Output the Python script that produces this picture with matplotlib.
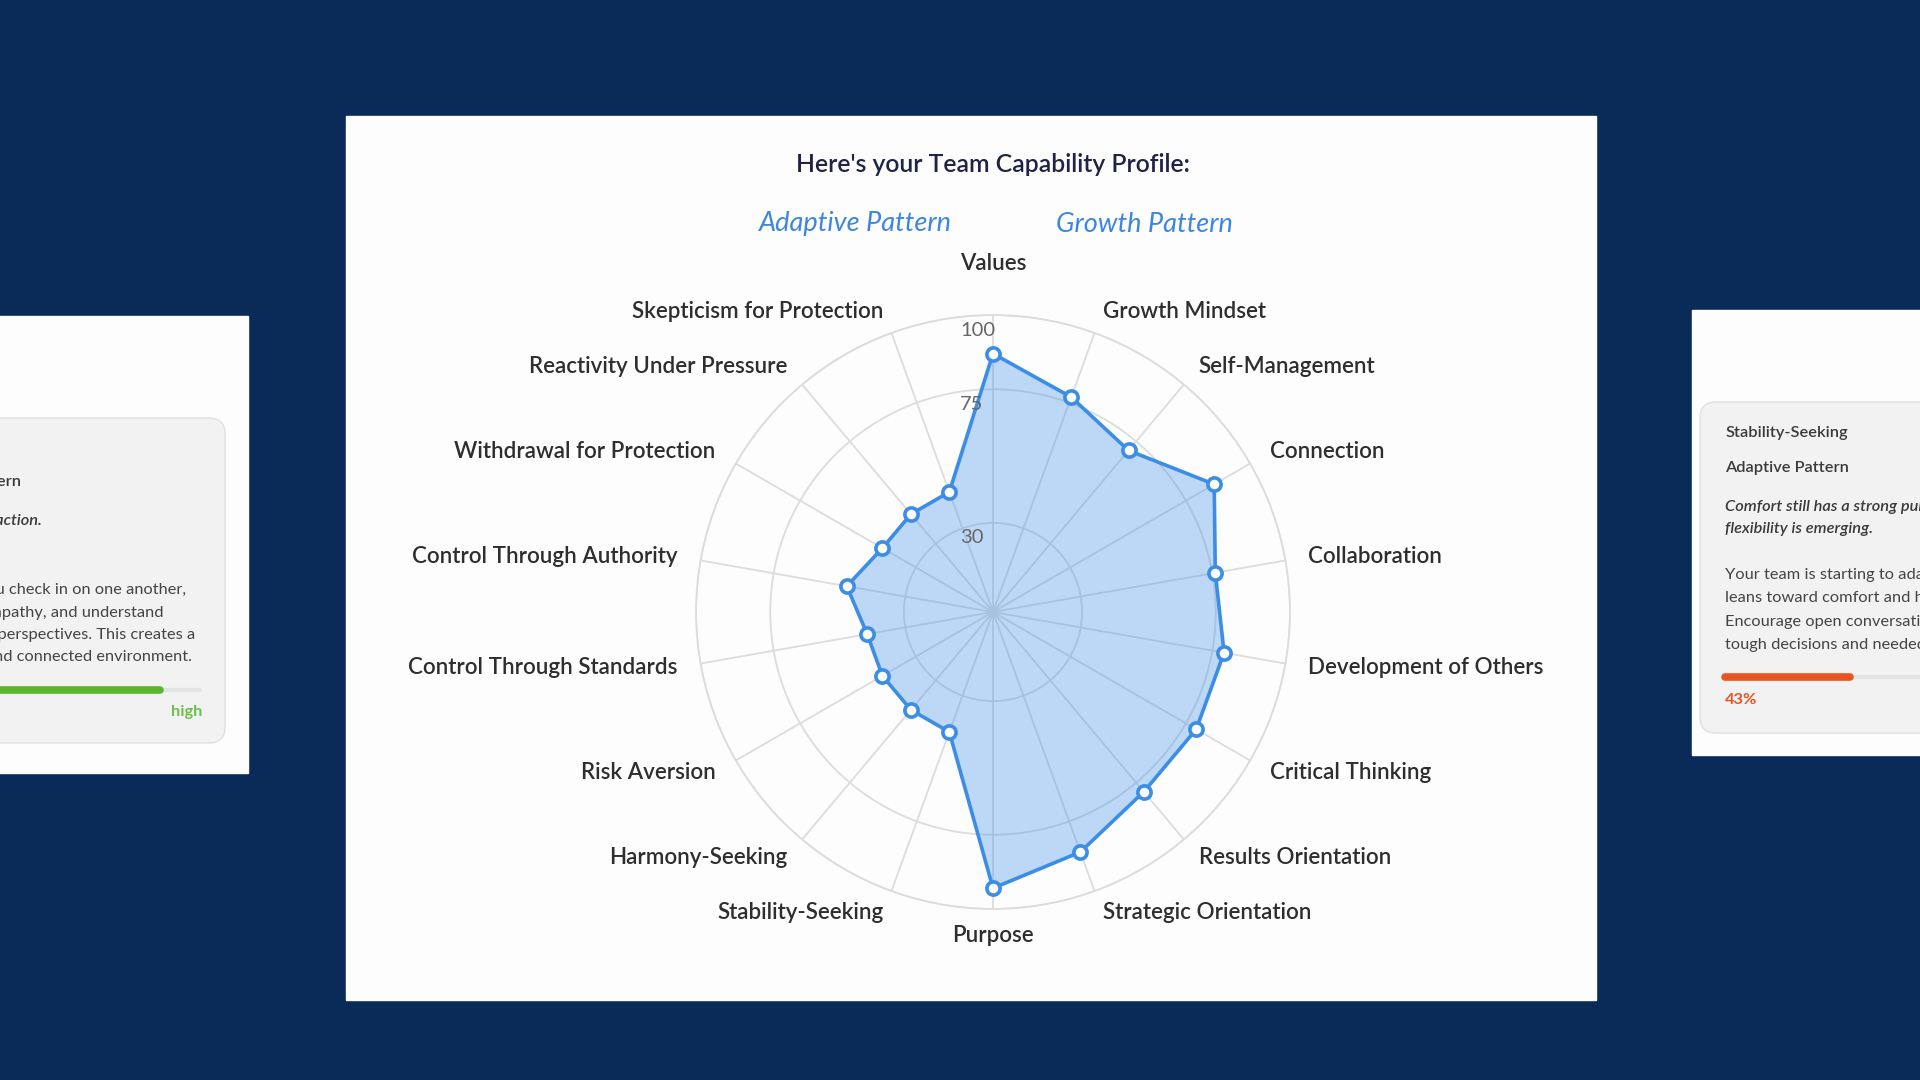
import numpy as np
import matplotlib
matplotlib.use("Agg")
import matplotlib.pyplot as plt
from matplotlib.patches import Rectangle, FancyBboxPatch
from matplotlib.transforms import offset_copy

plt.rcParams['font.family'] = ['Lato', 'DejaVu Sans']

# --- data ---
categories = ['Values', 'Growth Mindset', 'Self-Management', 'Connection', 'Collaboration',
              'Development of Others', 'Critical Thinking', 'Results Orientation',
              'Strategic Orientation', 'Purpose', 'Stability-Seeking', 'Harmony-Seeking',
              'Risk Aversion', 'Control Through Standards', 'Control Through Authority',
              'Withdrawal for Protection', 'Reactivity Under Pressure', 'Skepticism for Protection']
scores = [87, 77, 71, 86, 76, 79, 79, 79, 86, 93, 43, 43, 43, 43, 50, 43, 43, 43]
ring_ticks = [30, 75, 100]
patterns = ['Adaptive Pattern', 'Growth Pattern']

left_lines = ['Your team has a strong Connection pattern where you check in on one another,',
              'show real empathy, and understand',
              "each other's perspectives. This creates a",
              'trusting and connected environment.']
right_lines = ['Your team is starting to adapt, but it still',
               'leans toward comfort and harmony.',
               'Encourage open conversations about',
               'tough decisions and needed change.']
right_score = 43

navy = '#0a2b57'
blue = '#3b8de6'
grid_c = '#dcdcdc'
side_fs = 11.8

fig = plt.figure(figsize=(19.2, 10.8), dpi=100)
fig.patch.set_facecolor(navy)

# background layer in pixel units
bg = fig.add_axes([0, 0, 1, 1], zorder=0)
bg.set_xlim(0, 1920)
bg.set_ylim(1080, 0)
bg.axis('off')

# side cards
bg.add_patch(Rectangle((-10, 316), 258, 457, color='#fdfdfe'))
bg.add_patch(FancyBboxPatch((-40, 418), 265, 325, boxstyle='round,pad=0,rounding_size=16',
                            fc='#f2f2f2', ec='#e0e0e0', lw=1))
bg.add_patch(Rectangle((1692, 310), 260, 445, color='#fdfdfe'))
bg.add_patch(FancyBboxPatch((1700, 402), 260, 331, boxstyle='round,pad=0,rounding_size=16',
                            fc='#f2f2f2', ec='#e0e0e0', lw=1))

# main card
bg.add_patch(Rectangle((346, 116), 1250, 884, color='#fdfdfe'))

# left card text (runs off the figure edge, as in the reference)
txt = '#3a3a3a'
bg.text(21, 482, 'Growth Pattern', ha='right', va='center', fontsize=side_fs,
        fontweight='semibold', color=txt)
bg.text(42, 521, 'Care and trust shape every interaction.', ha='right', va='center',
        fontsize=side_fs, fontstyle='italic', fontweight='semibold', color=txt)
for k, (line, xe) in enumerate(zip(left_lines, [186, 164, 195, 192])):
    bg.text(xe, 590 + 22.5 * k, line, ha='right', va='center', fontsize=side_fs, color='#444444')
bg.plot([-10, 200], [690, 690], color='#e4e4e4', lw=3, solid_capstyle='round')
bg.plot([-10, 160], [690, 690], color='#5cb531', lw=5.5, solid_capstyle='round')
bg.text(202, 712, 'high', ha='right', va='center', fontsize=side_fs, fontweight='bold',
        color='#6cc04a')

# right card text
bg.text(1725, 433, 'Stability-Seeking', ha='left', va='center', fontsize=side_fs,
        fontweight='semibold', color=txt)
bg.text(1725, 468, patterns[0], ha='left', va='center', fontsize=side_fs,
        fontweight='semibold', color=txt)
bg.text(1725, 507, 'Comfort still has a strong pull, but', ha='left', va='center',
        fontsize=side_fs, fontstyle='italic', fontweight='semibold', color=txt)
bg.text(1725, 529, 'flexibility is emerging.', ha='left', va='center',
        fontsize=side_fs, fontstyle='italic', fontweight='semibold', color=txt)
for k, line in enumerate(right_lines):
    bg.text(1725, 575 + 23.3 * k, line, ha='left', va='center', fontsize=side_fs, color='#444444')
bar_w = 291
bg.plot([1725, 1725 + bar_w], [677, 677], color='#e4e4e4', lw=3, solid_capstyle='round')
bg.plot([1725, 1725 + bar_w * right_score / 100], [677, 677], color='#e9541f', lw=5.5,
        solid_capstyle='round')
bg.text(1725, 700, f'{right_score}%', ha='left', va='center', fontsize=side_fs,
        fontweight='bold', color='#e9541f')

# title and pattern names
bg.text(993, 164, "Here's your Team Capability Profile:", ha='center', va='center',
        fontsize=17.8, fontweight='semibold', color='#1f2345')
bg.text(855, 224, patterns[0], ha='center', va='center', fontsize=19.5,
        fontstyle='italic', color='#3d86e0')
bg.text(1144, 224, patterns[1], ha='center', va='center', fontsize=19.5,
        fontstyle='italic', color='#3d86e0')

# --- radar ---
cx, cy, R = 993, 612, 297
ax = fig.add_axes([(cx - R) / 1920, (1080 - cy - R) / 1080, 2 * R / 1920, 2 * R / 1080],
                  projection='polar', zorder=2)
ax.set_facecolor('none')
ax.set_theta_zero_location('N')
ax.set_theta_direction(-1)
ax.set_ylim(0, 100)

angles = np.linspace(0, 2 * np.pi, len(categories), endpoint=False)
ax.set_xticks(angles)
ax.set_xticklabels([])
ax.set_yticks(ring_ticks)
ax.set_yticklabels([])
ax.grid(color=grid_c, lw=1.3)
ax.spines['polar'].set_color(grid_c)
ax.spines['polar'].set_linewidth(1.3)

th = np.append(angles, angles[0])
rv = np.append(scores, scores[0])
ax.fill(th, rv, color=blue, alpha=0.33, lw=0, zorder=3)
ax.plot(th, rv, color=blue, lw=2.6, zorder=4)
ax.plot(angles, scores, 'o', ms=9.5, mfc='white', mec=blue, mew=2.6, zorder=5)

# ring tick labels
tick_tr = offset_copy(ax.transData, fig=fig, x=-33, y=-15, units='dots')
for t in ring_ticks:
    ax.text(0, t, str(t), transform=tick_tr, ha='left', va='center',
            fontsize=14.5, color='#666666', zorder=6)

# point labels
for a, name in zip(angles, categories):
    s = np.sin(a)
    if abs(s) < 1e-6:
        ha = 'center'
        r = 117.5 if np.cos(a) > 0 else 108.8
    else:
        ha = 'left' if s > 0 else 'right'
        r = 107.8
    ax.text(a, r, name, ha=ha, va='center', fontsize=16.1, fontweight='semibold',
            color='#2e2e2e')

fig.savefig('out.png', dpi=100, facecolor=fig.get_facecolor())
